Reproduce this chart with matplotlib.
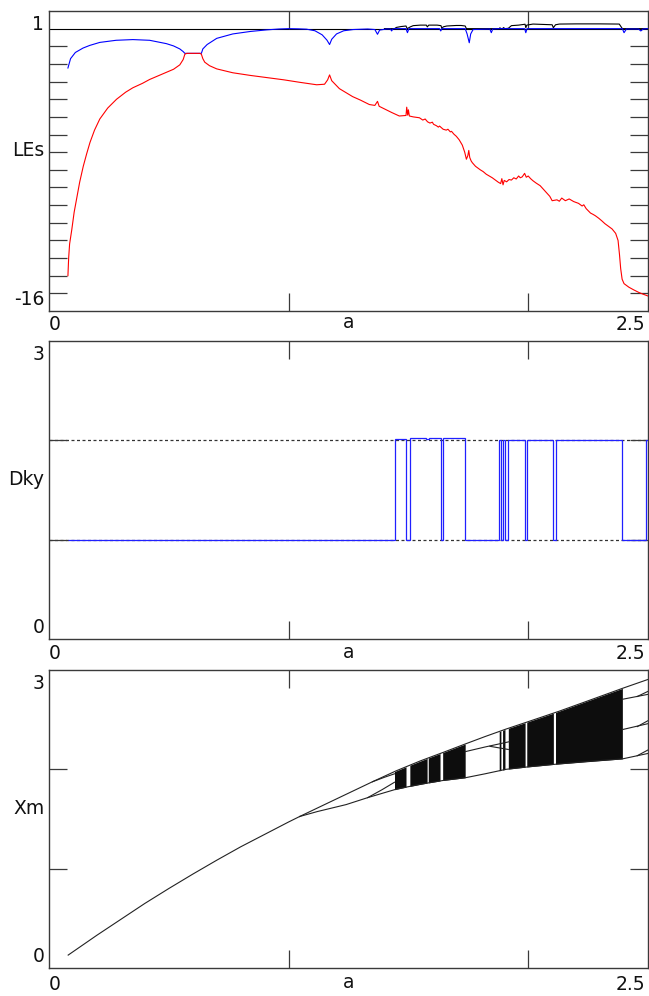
import numpy as np
import matplotlib
matplotlib.use('Agg')
import matplotlib.pyplot as plt

plt.rcParams['font.family'] = ['DejaVu Sans']

# ---------------- data: Lyapunov exponents ----------------
le1_a = [1.40, 1.442, 1.45, 1.47, 1.49, 1.495, 1.508, 1.52, 1.55, 1.575, 1.579, 1.585, 1.62,
         1.636, 1.640, 1.645, 1.66, 1.70, 1.72, 1.737, 1.742, 1.879, 1.882, 1.886, 1.893,
         1.897, 1.903, 1.917, 1.93, 1.96, 1.987, 1.990, 1.994, 2.02, 2.06, 2.10, 2.105,
         2.114, 2.13, 2.20, 2.30, 2.38, 2.393, 2.50]
le1 = [0.0, 0.0, 0.07, 0.12, 0.15, 0.0, 0.10, 0.17, 0.20, 0.20, 0.10, 0.20, 0.20,
       0.17, 0.0, 0.10, 0.15, 0.18, 0.18, 0.15, 0.0, 0.0, 0.05, 0.0, 0.0,
       0.06, 0.0, 0.02, 0.17, 0.20, 0.25, 0.05, 0.20, 0.26, 0.24, 0.22, 0.05,
       0.22, 0.26, 0.27, 0.27, 0.26, 0.0, 0.0]

le2_a = [0.079, 0.09, 0.11, 0.142, 0.17, 0.212, 0.28, 0.35, 0.42, 0.49, 0.52, 0.546, 0.56,
         0.567, 0.636, 0.642, 0.66, 0.70, 0.767, 0.84, 0.908, 0.96, 1.0, 1.04, 1.075, 1.11,
         1.14, 1.16, 1.171, 1.18, 1.20, 1.23, 1.27, 1.33, 1.36, 1.371, 1.38, 1.41, 1.425,
         1.43, 1.435, 1.442, 1.49, 1.496, 1.502, 1.63, 1.635, 1.64, 1.737, 1.745, 1.754,
         1.76, 1.77, 1.84, 1.846, 1.852, 1.879, 1.985, 1.99, 1.995, 2.393, 2.40, 2.41,
         2.46, 2.47, 2.48, 2.50]
le2 = [-2.23, -1.70, -1.35, -1.10, -0.95, -0.78, -0.66, -0.62, -0.66, -0.85, -0.98, -1.15, -1.30,
       -1.40, -1.40, -1.15, -0.90, -0.55, -0.30, -0.16, -0.07, -0.02, 0.0, -0.01, -0.03, -0.12,
       -0.35, -0.65, -0.90, -0.60, -0.30, -0.12, -0.05, -0.02, -0.05, -0.32, -0.08, -0.02, -0.02,
       -0.13, -0.02, 0.0, 0.0, -0.23, 0.0, 0.0, -0.13, 0.0, 0.0, -0.30, -0.80,
       -0.30, -0.05, -0.02, -0.23, -0.02, 0.0, 0.0, -0.23, 0.0, 0.0, -0.23, -0.02,
       -0.02, -0.13, -0.02, 0.0]

le3_a = [0.079, 0.082, 0.086, 0.095, 0.105, 0.115, 0.128, 0.143, 0.157, 0.171, 0.19, 0.212,
         0.245, 0.282, 0.32, 0.35, 0.39, 0.42, 0.46, 0.49, 0.52, 0.546, 0.56, 0.567, 0.575,
         0.63, 0.636, 0.642, 0.65, 0.67, 0.70, 0.767, 0.84, 0.908, 0.98, 1.046, 1.117, 1.15,
         1.163, 1.171, 1.18, 1.212, 1.267, 1.30, 1.337, 1.36, 1.371, 1.378, 1.40, 1.43, 1.462,
         1.49, 1.493, 1.497, 1.50, 1.504, 1.52, 1.546, 1.56, 1.57, 1.58, 1.59, 1.60, 1.605,
         1.617, 1.625, 1.63, 1.645, 1.658, 1.665, 1.675, 1.68, 1.69, 1.70, 1.712, 1.725,
         1.735, 1.742, 1.748, 1.752, 1.756, 1.762, 1.767, 1.78, 1.80, 1.812, 1.825, 1.85,
         1.875, 1.885, 1.89, 1.895, 1.90, 1.91, 1.92, 1.93, 1.94, 1.95, 1.96, 1.967, 1.975,
         1.985, 1.992, 2.0, 2.01, 2.02, 2.033, 2.05, 2.07, 2.09, 2.10, 2.12, 2.13, 2.14,
         2.155, 2.171, 2.18, 2.19, 2.21, 2.225, 2.232, 2.242, 2.26, 2.27, 2.28, 2.295, 2.308,
         2.32, 2.33, 2.35, 2.365, 2.375, 2.381, 2.386, 2.392, 2.40, 2.42, 2.44, 2.462, 2.48, 2.50]
le3 = [-14.0, -13.0, -12.2, -11.4, -10.4, -9.65, -8.7, -7.8, -7.1, -6.45, -5.75, -5.12,
       -4.5, -4.0, -3.6, -3.35, -3.1, -2.88, -2.65, -2.48, -2.3, -2.05, -1.75, -1.45, -1.40,
       -1.40, -1.45, -1.70, -1.90, -2.10, -2.28, -2.50, -2.65, -2.77, -2.90, -3.04, -3.18, -3.15,
       -2.90, -2.62, -2.95, -3.40, -3.85, -4.05, -4.30, -4.35, -4.12, -4.40, -4.55, -4.75, -4.95,
       -4.92, -4.45, -4.90, -4.60, -4.95, -5.00, -5.05, -5.18, -5.12, -5.28, -5.35, -5.30, -5.42,
       -5.50, -5.58, -5.52, -5.70, -5.75, -5.70, -5.85, -5.82, -5.98, -6.10, -6.30, -6.60,
       -7.00, -7.40, -7.20, -6.90, -7.30, -7.50, -7.60, -7.80, -8.00, -8.10, -8.25, -8.45,
       -8.70, -8.78, -8.50, -8.85, -8.60, -8.68, -8.55, -8.58, -8.45, -8.52, -8.35, -8.45, -8.40,
       -8.20, -8.42, -8.35, -8.50, -8.62, -8.75, -8.90, -9.20, -9.50, -9.75, -9.70, -9.78, -9.60,
       -9.75, -9.65, -9.72, -9.80, -9.90, -10.05, -9.98, -10.20, -10.45, -10.52, -10.60, -10.75, -10.90,
       -11.05, -11.15, -11.35, -11.60, -12.00, -12.80, -13.60, -14.20, -14.45, -14.65, -14.80, -14.95, -15.05, -15.15]

# ---------------- data: Kaplan-Yorke dimension ----------------
dky_edges = [0.079, 1.442, 1.49, 1.508, 1.575, 1.585, 1.636, 1.643, 1.737, 1.879, 1.886,
             1.893, 1.903, 1.917, 1.9875, 1.994, 2.105, 2.114, 2.393, 2.49, 2.50]
dky_levels = [1.0, 2.01, 1.0, 2.027, 2.012, 2.027, 1.0, 2.023, 1.0, 2.0, 1.0,
              2.0, 1.0, 2.007, 1.0, 2.007, 1.0, 2.007, 1.0, 2.0]

# ---------------- data: bifurcation diagram (local maxima Xm) ----------------
main_a = [0.08, 0.2, 0.3, 0.4, 0.5, 0.6, 0.7, 0.8, 0.9, 1.0, 1.046]
main_x = [0.13, 0.33, 0.49, 0.65, 0.80, 0.945, 1.085, 1.22, 1.345, 1.47, 1.525]
upper_a = [1.046, 1.15, 1.25, 1.35, 1.449, 1.55, 1.65, 1.737, 1.82, 1.907, 2.0, 2.129,
           2.25, 2.393, 2.5]
upper_x = [1.525, 1.645, 1.76, 1.875, 1.985, 2.085, 2.175, 2.255, 2.33, 2.405, 2.48, 2.585,
           2.69, 2.815, 2.905]
lower_a = [1.046, 1.12, 1.24, 1.33, 1.449, 1.55, 1.65, 1.737, 1.82, 1.907, 2.0, 2.13,
           2.25, 2.393, 2.5]
lower_x = [1.525, 1.575, 1.645, 1.715, 1.80, 1.85, 1.89, 1.915, 1.955, 2.0, 2.025, 2.055,
           2.08, 2.105, 2.16]
p4a_a = [1.33, 1.39, 1.442]
p4a_x = [1.715, 1.795, 1.87]
p4b_a = [1.35, 1.40, 1.442]
p4b_x = [1.875, 1.92, 1.955]
w1_a = [1.737, 1.82, 1.921]
w1_x = [2.178, 2.225, 2.278]
w1s_a = [1.84, 1.917]
w1s_x = [2.232, 2.2]
w2a_a = [2.393, 2.5]
w2a_x = [2.705, 2.755]
w2b_a = [2.393, 2.5]
w2b_x = [2.40, 2.46]
wedge_a = [2.455, 2.5]
wedge1_x = [2.733, 2.785]
wedge2_x = [2.43, 2.49]
wedge3_x = [2.137, 2.195]
band_start = [1.442, 1.506, 1.583, 1.643, 1.879, 1.893, 1.917, 1.994, 2.114]
band_end = [1.490, 1.578, 1.632, 1.737, 1.886, 1.903, 1.987, 2.105, 2.393]

# ---------------- figure ----------------
W, H = 649, 996
fig = plt.figure(figsize=(W / 100, H / 100), dpi=100)
FRAME = '#3a3a3a'
FS = 13.5


def make_ax(top_px, bot_px):
    ax = fig.add_axes([49 / W, 1 - bot_px / H, 599 / W, (bot_px - top_px) / H])
    ax.set_xlim(0, 2.5)
    for s in ax.spines.values():
        s.set_color(FRAME)
        s.set_linewidth(1.0)
    ax.tick_params(direction='in', length=13, width=0.9, color=FRAME, top=True, right=True,
                   labelbottom=False, labelleft=False)
    ax.set_xticks([1, 2])
    return ax


def labels(ax, top, bot, name, xlab_y):
    kw = dict(transform=ax.transAxes, fontsize=FS, color='#111')
    ax.text(-0.008, 0.955, top, ha='right', va='center', **kw)
    ax.text(-0.008, 0.037, bot, ha='right', va='center', **kw)
    ax.text(-0.008, 0.535, name, ha='right', va='center', **kw)
    ax.text(0.009, xlab_y, '0', ha='center', va='center', **kw)
    ax.text(0.5, xlab_y + 0.005, 'a', ha='center', va='center', **kw)
    ax.text(0.995, xlab_y, '2.5', ha='right', va='center', **kw)


# Top: LEs
ax1 = make_ax(11, 311)
ax1.set_ylim(-16, 1)
ax1.set_yticks(np.arange(-15, 0))
ax1.axhline(0, color='black', lw=0.8, zorder=1)
ax1.plot(le1_a, le1, color='black', lw=0.8, zorder=2)
ax1.plot(le2_a, le2, color='#0000ff', lw=0.8, zorder=3)
ax1.plot(le3_a, le3, color='#ff0000', lw=0.8, zorder=4)
labels(ax1, '1', '-16', 'LEs', -0.045)

# Middle: Dky
ax2 = make_ax(341, 639)
ax2.set_ylim(0, 3)
ax2.set_yticks([1, 2])
for lvl in (1, 2):
    ax2.axhline(lvl, color='#333333', lw=0.9, ls=(0, (2.4, 2.0)), zorder=1)
ax2.stairs(dky_levels, dky_edges, baseline=None, color='#2020ff', lw=0.9, zorder=3)
labels(ax2, '3', '0', 'Dky', -0.05)

# Bottom: Xm
ax3 = make_ax(670, 968)
ax3.set_ylim(0, 3)
ax3.set_yticks([1, 2])
lk = dict(color='#222222', lw=0.8)
ax3.plot(main_a, main_x, **lk)
ax3.plot(upper_a, upper_x, **lk)
ax3.plot(lower_a, lower_x, **lk)
ax3.plot(p4a_a, p4a_x, **lk)
ax3.plot(p4b_a, p4b_x, **lk)
ax3.plot(w1_a, w1_x, **lk)
ax3.plot(w1s_a, w1s_x, **lk)
ax3.plot(w2a_a, w2a_x, **lk)
ax3.plot(w2b_a, w2b_x, **lk)
ax3.plot(wedge_a, wedge1_x, **lk)
ax3.plot(wedge_a, wedge2_x, **lk)
ax3.plot(wedge_a, wedge3_x, **lk)
for a0, a1 in zip(band_start, band_end):
    aa = np.array([a0, a1])
    top = np.interp(aa, upper_a, upper_x)
    bot = np.interp(aa, lower_a, lower_x)
    ax3.fill_between(aa, bot, top, color='#0d0d0d', lw=0)
labels(ax3, '3', '0', 'Xm', -0.055)

fig.savefig('out.png', dpi=100)
